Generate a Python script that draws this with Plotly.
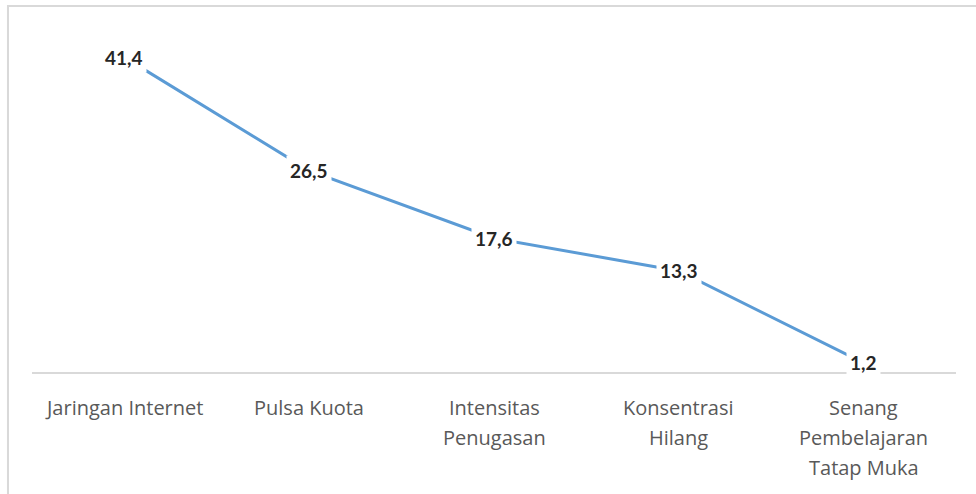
import plotly.graph_objects as go

categories = ["Jaringan Internet", "Pulsa Kuota", "Intensitas<br>Penugasan",
              "Konsentrasi<br>Hilang", "Senang<br>Pembelajaran<br>Tatap Muka"]
values = [41.4, 26.5, 17.6, 13.3, 1.2]
y_max = 45

fig = go.Figure()
fig.add_trace(go.Scatter(
    x=categories, y=values, mode="lines",
    line=dict(color="#5B9BD5", width=3),
    hoverinfo="skip", showlegend=False,
))

annotations = []
for c, v in zip(categories, values):
    annotations.append(dict(
        x=c, y=v, xref="x", yref="y",
        text="<b>" + f"{v:.1f}".replace(".", ",") + "</b>",
        showarrow=False, bgcolor="white", borderpad=3,
        font=dict(family="Lato, sans-serif", size=19, color="#262626"),
    ))
    for i, line in enumerate(c.split("<br>")):
        annotations.append(dict(
            x=c, y=0, xref="x", yref="paper", yanchor="middle",
            yshift=-(35 + 30 * i),
            text=line, showarrow=False,
            font=dict(family="Open Sans, sans-serif", size=20, color="#595959"),
        ))

fig.update_layout(
    width=976, height=494,
    margin=dict(l=32, r=20, t=30, b=122),
    paper_bgcolor="white", plot_bgcolor="white",
    annotations=annotations,
    xaxis=dict(showgrid=False, showticklabels=False, ticks="", showline=True,
               linecolor="#d9d9d9", linewidth=2, zeroline=False,
               range=[-0.5, len(categories) - 0.5], fixedrange=True),
    yaxis=dict(range=[0, y_max], visible=False, fixedrange=True),
    shapes=[dict(type="rect", xref="paper", yref="paper",
                 x0=-0.026, x1=2, y0=-1, y1=1.07,
                 line=dict(color="#d9d9d9", width=2), layer="below")],
)

fig.write_html("out.html", config={"displayModeBar": False},
               post_script="document.body.style.margin='0';document.body.style.padding='0';")
